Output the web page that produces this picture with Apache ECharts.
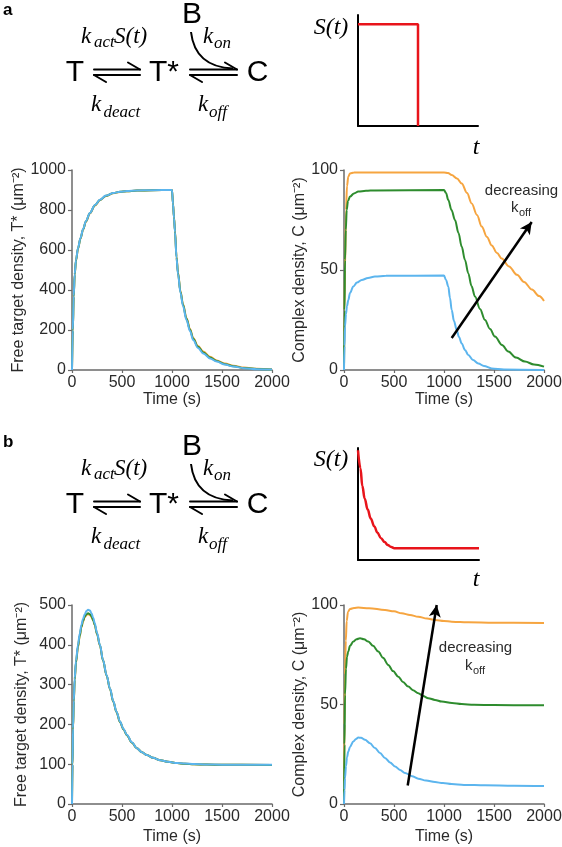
<!DOCTYPE html>
<html>
<head>
<meta charset="utf-8">
<script src="https://cdn.jsdelivr.net/npm/echarts@6/dist/echarts.min.js"></script>
<style>html,body{margin:0;padding:0;background:#fff}#c{width:562px;height:847px}</style>
</head>
<body>
<div id="c"></div>
<script>
// ---------- DATA ----------
// Panel a, left: free target density T* (μm^-2) vs time (s)
const aLeftOrange = [[0,0],[8,195],[17,365],[27,475],[40,548],[60,606],[85,657],[111,702],[140,742],[178,782],[230,822],[279,849],[340,870],[413,884],[480,890],[548,894],[650,897],[800,899],[1000,900],[1010,832],[1020,764],[1030,696],[1045,568],[1060,488],[1085,394],[1110,330],[1145,260],[1180,205],[1212,160],[1260,120],[1313,92],[1380,66],[1447,48],[1530,32],[1615,21],[1720,12],[1850,6],[2000,3]];
const aLeftGreen  = [[0,0],[8,198],[17,368],[27,478],[40,549],[60,608],[85,658],[111,703],[140,744],[178,784],[230,824],[279,850],[340,871],[413,885],[480,891],[548,894],[650,897],[800,899],[1000,900],[1010,831],[1020,762],[1030,693],[1045,564],[1060,484],[1085,390],[1110,326],[1145,256],[1180,201],[1212,156],[1260,116],[1313,88],[1380,62],[1447,45],[1530,29],[1615,19],[1720,10],[1850,5],[2000,2]];
const aLeftBlue   = [[0,0],[8,200],[17,370],[27,480],[40,550],[60,610],[85,660],[111,705],[140,745],[178,785],[230,825],[279,851],[340,872],[413,885],[480,891],[548,895],[650,898],[800,899],[1000,900],[1010,830],[1020,760],[1030,690],[1045,560],[1060,480],[1085,385],[1110,320],[1145,250],[1180,195],[1212,150],[1260,110],[1313,83],[1380,58],[1447,42],[1530,27],[1615,17],[1720,9],[1850,4],[2000,2]];
// Panel a, right: complex density C (μm^-2) vs time (s)
const aRightOrange = [[0,0],[5,30],[10,50],[20,80],[30,92],[43,96.7],[60,98.3],[100,98.7],[1000,98.8],[1040,98.5],[1077,97.5],[1130,95.8],[1177,93.3],[1230,88.5],[1277,83.3],[1330,77.5],[1377,71.7],[1430,66.5],[1477,62.3],[1530,58.5],[1577,55.7],[1650,51.8],[1730,47.6],[1800,44],[1880,40.2],[1950,37],[2000,34.5]];
const aRightGreen  = [[0,0],[5,30],[10,55],[18,70],[27,80],[40,84.5],[60,86.7],[100,88.3],[143,89.2],[220,89.6],[310,89.8],[1000,90],[1020,88.5],[1043,85],[1075,80],[1110,75],[1145,68.5],[1177,61.7],[1210,55],[1243,48.3],[1275,42],[1310,36.7],[1360,30.5],[1410,25],[1460,20.5],[1510,16.7],[1580,12.5],[1643,9.2],[1720,6.2],[1810,4.2],[1900,2.8],[2000,1.7]];
const aRightBlue   = [[0,0],[5,12],[10,21.7],[20,28],[30,32],[43,35],[60,38.5],[93,41.7],[130,43.7],[177,45],[240,46],[310,46.7],[420,47.1],[1000,47.2],[1020,45],[1043,41.7],[1060,36],[1077,30],[1100,24.5],[1127,20],[1150,16.5],[1177,13.3],[1210,10],[1243,7.5],[1290,5],[1343,3.3],[1400,2],[1477,0.8],[1600,0.3],[2000,0]];
// Panel b, left: free target density T*
const bLeftOrange = [[0,0],[5,98],[10,186],[18,256],[27,311],[40,355],[60,394],[77,421],[94,443],[110,458],[128,469],[145,475],[161,477],[180,475],[195,470],[212,461],[228,449],[250,427],[279,398],[310,361],[346,323],[380,289],[413,257],[445,231],[480,206],[515,188],[548,173],[600,154],[648,140],[700,130],[749,123],[810,116],[884,110],[960,106],[1052,103],[1130,101],[1220,100],[1350,99],[1500,98.5],[2000,98]];
const bLeftGreen  = [[0,0],[5,99],[10,188],[18,258],[27,313],[40,357],[60,396],[77,423],[94,445],[110,460],[128,471],[145,477],[161,479],[180,477],[195,472],[212,462],[228,450],[250,428],[279,399],[310,361],[346,323],[380,289],[413,257],[445,231],[480,206],[515,188],[548,173],[600,154],[648,140],[700,130],[749,123],[810,116],[884,110],[960,106],[1052,103],[1130,101],[1220,100],[1350,99],[1500,98.5],[2000,98]];
const bLeftBlue   = [[0,0],[5,100],[10,190],[18,260],[27,316],[40,360],[60,400],[77,428],[94,450],[110,465],[128,477],[145,485],[161,488],[180,486],[195,479],[212,468],[228,454],[250,430],[279,400],[310,362],[346,324],[380,290],[413,258],[445,232],[480,207],[515,189],[548,174],[600,155],[648,140],[700,130],[749,123],[810,116],[884,110],[960,106],[1052,103],[1130,101.5],[1220,100.3],[1350,99.3],[1500,98.8],[2000,98.5]];
// Panel b, right: complex density C
const bRightOrange = [[0,0],[5,40],[10,65],[18,82],[27,92],[40,96.5],[60,98],[100,98.5],[143,98.7],[250,98.4],[410,97.5],[500,96.8],[577,95.8],[660,95],[743,94.1],[830,93.2],[910,92.5],[1000,92],[1077,91.6],[1160,91.4],[1243,91.3],[1500,91.1],[2000,91]];
const bRightGreen  = [[0,0],[5,30],[10,55],[20,68],[30,74],[43,76.6],[60,79.5],[93,81.6],[125,82.8],[160,83.3],[200,82.8],[243,81.6],[290,79.5],[343,76.6],[390,73.5],[443,69.9],[490,66.8],[543,64],[590,61.3],[643,59],[690,57.2],[743,55.7],[790,54.3],[843,53.2],[910,52.3],[977,51.5],[1080,50.7],[1177,50.2],[1300,49.9],[1500,49.7],[2000,49.6]];
const bRightBlue   = [[0,0],[5,7],[10,13],[20,19],[30,23.5],[43,26.4],[60,28.7],[93,31.4],[120,32.7],[143,33.4],[170,33.3],[210,32.3],[260,30.5],[310,28.1],[360,25.6],[410,23.1],[460,20.9],[510,18.9],[560,17.1],[610,15.6],[680,14],[743,12.7],[820,11.8],[910,11],[990,10.5],[1077,10],[1200,9.6],[1410,9.4],[1700,9.2],[2000,9]];
// Stimulus S(t) schematics (arbitrary units)
const stimA = [[0,1],[1,1],[1,0]];
const stimB = [[0,0.98],[0.2,0.82],[0.36,0.66],[0.55,0.55],[0.8,0.45],[1.05,0.37],[1.35,0.30],[1.6,0.245],[1.9,0.195],[2.2,0.16],[2.45,0.135],[2.75,0.115],[3.0,0.105],[10,0.105]];
// Arrow annotations (data coords: time, C)
const arrowA = [[1077,16],[1877,74]];
const arrowB = [[637,9.3],[927,100]];
// Tick settings
const timeTicks = {min:0, max:2000, interval:500};
const yTicks = [{max:1000, interval:200},{max:100, interval:50},{max:500, interval:100},{max:100, interval:50}];
const yNames = ['Free target density, T* (μm⁻²)','Complex density, C (μm⁻²)','Free target density, T* (μm⁻²)','Complex density, C (μm⁻²)'];
const COLORS = ['#f6a540','#2e8c2e','#5cb5ee'];

// ---------- CHART ----------
const chart = echarts.init(document.getElementById('c'), null, {renderer:'canvas'});
const SANS = '"Liberation Sans", Arial, sans-serif';
const SERIF = '"Liberation Serif", "Times New Roman", serif';
const AX = '#6a6a6a';
const TXT = '#2a2a2a';
const FS = 16;
const plain = v => String(v);

const grids = [
  {left:72, top:170, width:200, height:200},
  {left:344, top:170, width:200, height:200},
  {left:72, top:605, width:200, height:199},
  {left:344, top:605, width:200, height:199},
  {left:358, top:15, width:120, height:111},
  {left:358, top:448, width:121, height:112}
].map(g => Object.assign({containLabel:false, outerBoundsMode:'none'}, g));

const xAxes = [], yAxes = [];
const xNameGaps = [22, 22, 25, 25];
const yNameGaps = [42, 35, 42, 35];
for (let i = 0; i < 4; i++) {
  xAxes.push({
    gridIndex:i, type:'value', min:timeTicks.min, max:timeTicks.max, interval:timeTicks.interval,
    axisLine:{show:true, onZero:false, lineStyle:{color:AX, width:1.5}},
    axisTick:{show:true, length:3, lineStyle:{color:AX, width:1.2}},
    axisLabel:{fontSize:FS, color:TXT, margin:5, fontFamily:SANS, formatter:plain},
    splitLine:{show:false},
    name:'Time (s)', nameLocation:'middle', nameGap:xNameGaps[i],
    nameTextStyle:{fontSize:FS, color:TXT, fontFamily:SANS}
  });
  yAxes.push({
    gridIndex:i, type:'value', min:0, max:yTicks[i].max, interval:yTicks[i].interval,
    axisLine:{show:true, onZero:false, lineStyle:{color:AX, width:1.5}},
    axisTick:{show:true, length:4, lineStyle:{color:AX, width:1.2}},
    axisLabel:{fontSize:FS, color:TXT, margin:6, fontFamily:SANS, formatter:plain},
    splitLine:{show:false},
    name:yNames[i], nameLocation:'middle', nameGap:yNameGaps[i],
    nameTextStyle:{fontSize:FS, color:TXT, fontFamily:SANS}
  });
}
// S(t) mini axes
const miniAxis = (gi, max) => ({
  gridIndex:gi, type:'value', min:0, max:max,
  axisLine:{show:true, onZero:false, lineStyle:{color:'#000', width:2}},
  axisTick:{show:false}, axisLabel:{show:false}, splitLine:{show:false}
});
xAxes.push(miniAxis(4, 2)); yAxes.push(miniAxis(4, 1.09));
xAxes.push(miniAxis(5, 10)); yAxes.push(miniAxis(5, 1));

const panelData = [
  [aLeftOrange, aLeftGreen, aLeftBlue],
  [aRightOrange, aRightGreen, aRightBlue],
  [bLeftOrange, bLeftGreen, bLeftBlue],
  [bRightOrange, bRightGreen, bRightBlue]
];
const series = [];
panelData.forEach((sets, pi) => {
  sets.forEach((d, si) => {
    const s = {
      type:'line', xAxisIndex:pi, yAxisIndex:pi, data:d, showSymbol:false, symbol:'none',
      smooth:0.35, smoothMonotone:'x', lineStyle:{color:COLORS[si], width:2}, itemStyle:{color:COLORS[si]},
      z:2+si, animation:false
    };
    if (si === 2 && (pi === 1 || pi === 3)) {
      const a = pi === 1 ? arrowA : arrowB;
      s.markLine = {
        silent:true, animation:false, symbol:['none','arrow'], symbolSize:[9,12],
        lineStyle:{color:'#000', width:2.5, type:'solid'}, label:{show:false},
        data:[[{coord:a[0]},{coord:a[1]}]]
      };
    }
    series.push(s);
  });
});
series.push({type:'line', xAxisIndex:4, yAxisIndex:4, data:stimA, showSymbol:false, symbol:'none',
  lineStyle:{color:'#e8141b', width:2.5}, animation:false, z:5});
series.push({type:'line', xAxisIndex:5, yAxisIndex:5, data:stimB, showSymbol:false, symbol:'none', smooth:0.4, smoothMonotone:'x',
  lineStyle:{color:'#e8141b', width:2.5}, animation:false, z:5});

// ---------- Reaction scheme graphics ----------
function txt(x, y, text, font, align) {
  return {type:'text', x:x, y:y, silent:true, style:{text:text, font:font, fill:'#000', align:align||'left', verticalAlign:'middle'}};
}
function ln(x1, y1, x2, y2, w) {
  return {type:'line', silent:true, shape:{x1:x1, y1:y1, x2:x2, y2:y2}, style:{stroke:'#000', lineWidth:w||2, lineCap:'round'}};
}
function scheme(dy, letter) {
  const it22 = 'italic 23px ' + SERIF, it16 = 'italic 17px ' + SERIF;
  const els = [
    txt(3, 10.5 + dy, letter, 'bold 17px ' + SANS),
    txt(75, 72.5 + dy, 'T', '30px ' + SANS, 'center'),
    txt(149, 72.5 + dy, 'T*', '30px ' + SANS),
    txt(257.5, 72.5 + dy, 'C', '30px ' + SANS, 'center'),
    txt(192, 14.5 + dy, 'B', '30px ' + SANS, 'center'),
    // first equilibrium harpoons
    ln(94, 69.5 + dy, 140, 69.5 + dy), ln(128, 62.5 + dy, 140, 69.5 + dy),
    ln(94, 75 + dy, 140, 75 + dy), ln(94, 75 + dy, 106, 82 + dy),
    // second equilibrium harpoons
    ln(190, 69.5 + dy, 237, 69.5 + dy), ln(225, 62.5 + dy, 237, 69.5 + dy),
    ln(190, 75 + dy, 237, 75 + dy), ln(190, 75 + dy, 202, 82 + dy),
    {type:'bezierCurve', silent:true, shape:{x1:191, y1:32 + dy, cpx1:195, cpy1:67 + dy, x2:233, y2:68.5 + dy},
      style:{stroke:'#000', lineWidth:2, fill:'none'}},
    // rate constants
    txt(81, 37.3 + dy, 'k', it22), txt(94, 43 + dy, 'act', it16), txt(114, 37.3 + dy, 'S(t)', it22),
    txt(91, 105.3 + dy, 'k', it22), txt(103.5, 112.3 + dy, 'deact', it16),
    txt(203, 37.3 + dy, 'k', it22), txt(214, 43.5 + dy, 'on', it16),
    txt(198, 105.3 + dy, 'k', it22), txt(209, 112.3 + dy, 'off', it16),
    // S(t) schematic labels
    txt(331, 27.3 + dy, 'S(t)', 'italic 24px ' + SERIF, 'center'),
    txt(476, 147.3 + dy, 't', 'italic 24px ' + SERIF, 'center')
  ];
  return els;
}
const annot = [
  txt(521.5, 191, 'decreasing', '15px ' + SANS, 'center'),
  txt(511, 208, 'k', '15px ' + SANS), txt(519, 213, 'off', '11px ' + SANS),
  txt(475.5, 647.5, 'decreasing', '15px ' + SANS, 'center'),
  txt(465, 666, 'k', '15px ' + SANS), txt(473, 671, 'off', '11px ' + SANS)
];
annot.forEach(a => a.style.fill = TXT);

chart.setOption({
  animation:false,
  backgroundColor:'#fff',
  grid:grids, xAxis:xAxes, yAxis:yAxes, series:series,
  graphic:{elements: scheme(0, 'a').concat(scheme(432, 'b')).concat(annot)}
});
</script>
</body>
</html>
